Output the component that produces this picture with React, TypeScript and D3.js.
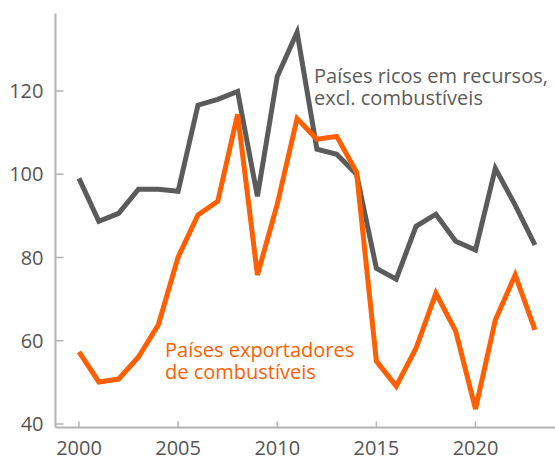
import { useMemo } from 'react'
import * as d3 from 'd3'

const years = d3.range(2000, 2024)

const ricosRecursos = [
    99.0, 88.7, 90.6, 96.4, 96.4, 95.9, 116.6, 118.0, 119.9, 94.7, 123.5, 134.1,
    106.0, 104.8, 100.0, 77.4, 74.8, 87.5, 90.4, 83.9, 81.8, 101.4, 92.6, 83.0
]

const exportadores = [
    57.3, 50.1, 50.8, 56.1, 63.8, 80.1, 90.2, 93.5, 114.4, 75.8, 92.8, 113.4,
    108.4, 109.1, 100.5, 55.1, 49.1, 58.2, 71.4, 62.3, 43.6, 65.0, 75.8, 62.6
]

const yTicks = [40, 60, 80, 100, 120]
const xTicks = [2000, 2005, 2010, 2015, 2020]

const labelRicos = ['Países ricos em recursos,', 'excl. combustíveis']
const labelExport = ['Países exportadores', 'de combustíveis']

const W = 555
const H = 461
const font = '"Open Sans", "Noto Sans", sans-serif'
const axisColor = '#b3b3b3'
const textColor = '#555555'
const gray = '#5b5b5b'
const orange = '#ff5f00'
const fs = 20

export default function App() {
    const xScale = useMemo(
        () => d3.scaleLinear().domain([2000, 2023]).range([79, 535]),
        []
    )
    const yScale = useMemo(
        () => d3.scaleLinear().domain([40, 120]).range([424, 91]),
        []
    )
    const line = d3
        .line<number>()
        .x((_, i) => xScale(years[i]))
        .y((d) => yScale(d))

    const axisX = 55.5
    const baseY = 427.5
    const topY = yScale(138.6)

    return (
        <svg
            width={W}
            height={H}
            style={{ position: 'absolute', left: 0, top: 0, background: '#fff' }}
            fontFamily={font}
        >
            {/* axes */}
            <line x1={axisX} x2={axisX} y1={topY} y2={baseY} stroke={axisColor} strokeWidth={2} />
            <line x1={axisX} x2={W} y1={baseY} y2={baseY} stroke={axisColor} strokeWidth={2} />
            {yTicks.map((t) => (
                <g key={t}>
                    <line
                        x1={axisX}
                        x2={axisX + 8}
                        y1={yScale(t)}
                        y2={yScale(t)}
                        stroke={axisColor}
                        strokeWidth={1.5}
                    />
                    <text
                        x={axisX - 12}
                        y={yScale(t)}
                        dy="0.36em"
                        textAnchor="end"
                        fontSize={fs}
                        fill={textColor}
                    >
                        {t}
                    </text>
                </g>
            ))}
            {xTicks.map((t) => (
                <g key={t}>
                    <line
                        x1={xScale(t)}
                        x2={xScale(t)}
                        y1={baseY}
                        y2={baseY - 6}
                        stroke={axisColor}
                        strokeWidth={1.5}
                    />
                    <text
                        x={xScale(t)}
                        y={455}
                        textAnchor="middle"
                        fontSize={fs}
                        fill={textColor}
                    >
                        {t}
                    </text>
                </g>
            ))}

            {/* series */}
            <path
                d={line(ricosRecursos) ?? ''}
                fill="none"
                stroke={gray}
                strokeWidth={5}
            />
            <path
                d={line(exportadores) ?? ''}
                fill="none"
                stroke={orange}
                strokeWidth={5}
            />

            {/* labels */}
            {labelRicos.map((s, i) => (
                <text key={s} x={314} y={83 + i * 22} fontSize={fs} fill={gray}>
                    {s}
                </text>
            ))}
            {labelExport.map((s, i) => (
                <text key={s} x={165} y={357 + i * 22} fontSize={fs} fill={orange}>
                    {s}
                </text>
            ))}
        </svg>
    )
}
